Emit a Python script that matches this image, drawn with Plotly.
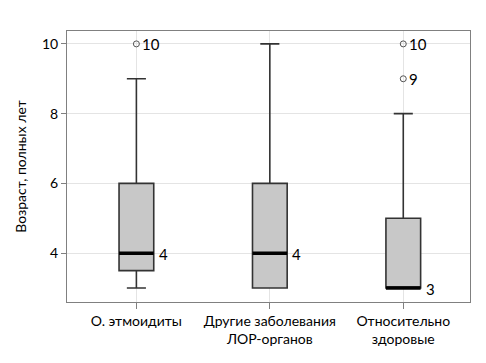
import plotly.graph_objects as go

categories = ["О. этмоидиты", "Другие заболевания<br>ЛОР-органов", "Относительно<br>здоровые"]
q1 = [3.5, 3, 3]
median = [4, 4, 3]
q3 = [6, 6, 5]
lower = [3, 3, 3]
upper = [9, 10, 8]
outlier_x = [0, 2, 2]
outlier_y = [10, 10, 9]

xs = list(range(len(categories)))
half = 0.13

fig = go.Figure()
fig.add_trace(go.Box(
    x=xs, q1=q1, median=median, q3=q3, lowerfence=lower, upperfence=upper,
    boxpoints=False, fillcolor="#c8c8c8", line=dict(color="#333333", width=1.6),
    width=0.26, whiskerwidth=0.55, showlegend=False, hoverinfo="skip"))

for i in xs:
    fig.add_trace(go.Scatter(x=[i - half, i + half], y=[median[i], median[i]], mode="lines",
                             line=dict(color="black", width=3.5), showlegend=False, hoverinfo="skip"))

fig.add_trace(go.Scatter(x=outlier_x, y=outlier_y, mode="markers",
                         marker=dict(symbol="circle-open", size=6, color="#555555", line=dict(width=1)),
                         showlegend=False, hoverinfo="skip"))

for xv, yv in zip(outlier_x, outlier_y):
    fig.add_annotation(x=xv, y=yv, text=str(yv), showarrow=False, xanchor="left",
                       xshift=4, font=dict(size=15, color="black"))
for i in xs:
    fig.add_annotation(x=i + half, y=median[i], text=str(median[i]), showarrow=False,
                       xanchor="left", xshift=3, yshift=-1, font=dict(size=15, color="black"))

fig.update_layout(
    width=486, height=363, margin=dict(l=67, r=16, t=31, b=61),
    plot_bgcolor="white", paper_bgcolor="white",
    font=dict(family="Lato, Open Sans, sans-serif", size=14, color="black"),
    xaxis=dict(range=[-0.52, 2.5], tickvals=xs, ticktext=categories, showgrid=True,
               gridcolor="#e4e4e4", showline=True, linecolor="#808080", mirror=True,
               ticks="outside", ticklen=6, tickcolor="#808080", zeroline=False,
               automargin=False, tickfont=dict(size=14, color="black")),
    yaxis=dict(range=[2.6, 10.37], tickvals=[4, 6, 8, 10], showgrid=True, gridcolor="#e4e4e4",
               showline=True, linecolor="#808080", mirror=True, ticks="outside", ticklen=5,
               tickcolor="#808080", zeroline=False, automargin=False,
               tickfont=dict(size=14, color="black"),
               title=dict(text="Возраст, полных лет", font=dict(size=14, color="black"), standoff=12)),
)

fig.write_html("out.html", post_script="document.body.style.margin='0';",
               config={"displayModeBar": False})
